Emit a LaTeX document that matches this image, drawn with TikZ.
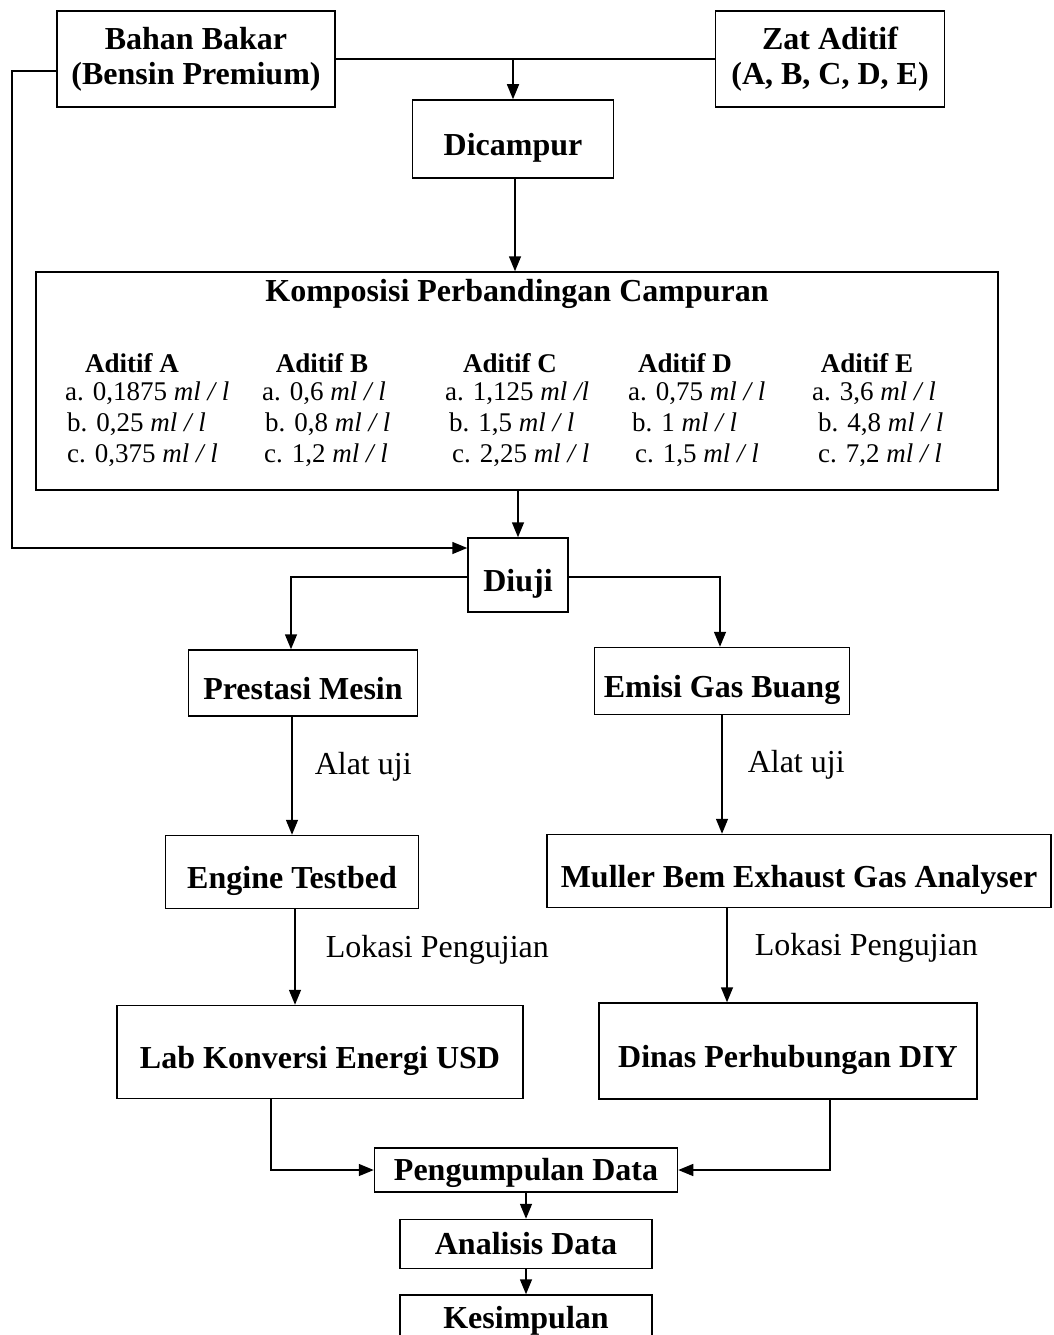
\documentclass[tikz,border=0pt]{standalone}
\usepackage{fontspec}
\setmainfont{Liberation Serif}
\usetikzlibrary{arrows.meta,positioning}

\begin{document}
\begin{tikzpicture}[x=1pt,y=1pt,
  frame/.style={draw,line width=1.5pt,inner sep=0pt,align=center,font=\fontsize{32}{35}\selectfont\bfseries},
  box/.style={frame,text height=32pt,text depth=0pt},
  smallbox/.style={frame,text height=20pt,text depth=0pt},
  arr/.style={-{Triangle[length=15pt,width=12pt]},line width=1.5pt},
  conn/.style={line width=1.5pt},
  lbl/.style={inner sep=0pt,anchor=west,font=\fontsize{32}{35}\selectfont},
  head/.style={inner sep=0pt,anchor=base,font=\fontsize{27}{31}\selectfont\bfseries},
  vals/.style={inner sep=0pt,align=left,anchor=north west,font=\fontsize{27}{31}\selectfont}]
\useasboundingbox (0,0) rectangle (1053,-1335);

\node[frame,minimum width=278pt,minimum height=96pt] (bahan) at (196,-59) {Bahan Bakar\\(Bensin Premium)};
\node[frame,minimum width=229pt,minimum height=96pt] (zat) at (830,-59) {Zat Aditif\\(A, B, C, D, E)};
\node[box,minimum width=201pt,minimum height=78pt] (dicampur) at (513,-139) {Dicampur};
\node[frame,minimum width=962pt,minimum height=218pt] (komposisi) at (517,-381) {};
\node[frame,draw=none] (judul) at (517,-294) {Komposisi Perbandingan Campuran};

% kolom aditif
\node[head] (hA) at (132,-372) {Aditif A};
\node[vals] (vA) at (65,-382) {a. 0,1875 \textit{ml / l}\\\hspace*{2pt}b. 0,25 \textit{ml / l}\\\hspace*{2pt}c. 0,375 \textit{ml / l}};
\node[head] (hB) at (322,-372) {Aditif B};
\node[vals] (vB) at (262,-382) {a. 0,6 \textit{ml / l}\\\hspace*{3pt}b. 0,8 \textit{ml / l}\\\hspace*{2pt}c. 1,2 \textit{ml / l}};
\node[head] (hC) at (510,-372) {Aditif C};
\node[vals] (vC) at (445,-382) {a. 1,125 \textit{ml /l}\\\hspace*{4pt}b. 1,5 \textit{ml / l}\\\hspace*{7pt}c. 2,25 \textit{ml / l}};
\node[head] (hD) at (685,-372) {Aditif D};
\node[vals] (vD) at (628,-382) {a. 0,75 \textit{ml / l}\\\hspace*{4pt}b. 1 \textit{ml / l}\\\hspace*{7pt}c. 1,5 \textit{ml / l}};
\node[head] (hE) at (867,-372) {Aditif E};
\node[vals] (vE) at (812,-382) {a. 3,6 \textit{ml / l}\\\hspace*{6pt}b. 4,8 \textit{ml / l}\\\hspace*{6pt}c. 7,2 \textit{ml / l}};

\node[box,minimum width=100pt,minimum height=74pt] (diuji) at (518,-575) {Diuji};
\node[box,minimum width=229pt,minimum height=66pt] (prestasi) at (303,-683) {Prestasi Mesin};
\node[box,minimum width=255pt,minimum height=67pt] (emisi) at (722,-681) {Emisi Gas Buang};
\node[box,minimum width=253pt,minimum height=73pt] (engine) at (292,-872) {Engine Testbed};
\node[box,minimum width=504pt,minimum height=73pt] (muller) at (799,-871) {Muller Bem Exhaust Gas Analyser};
\node[box,minimum width=406pt,minimum height=93pt] (lab) at (320,-1052) {Lab Konversi Energi USD};
\node[box,minimum width=378pt,minimum height=96pt] (dinas) at (788,-1051) {Dinas Perhubungan DIY};
\node[smallbox,minimum width=303pt,minimum height=44pt] (kumpul) at (526,-1170) {Pengumpulan Data};
\node[smallbox,minimum width=252pt,minimum height=49pt,below=26pt of kumpul] (analisis) {Analisis Data};
\node[smallbox,text height=14pt,minimum width=252pt,minimum height=52pt,below=25pt of analisis] (simpul) {Kesimpulan};
\coordinate (loop) at (12,-548);

\draw[conn] (bahan) -- (zat);
\draw[arr] (bahan.east -| dicampur.north) -- (dicampur.north);
\draw[arr] ([xshift=2pt]dicampur.south) -- ([xshift=2pt]dicampur.south |- komposisi.north);
\draw[arr] (komposisi.south -| diuji.north) -- (diuji.north);
\draw[arr] ([yshift=-12pt]bahan.west) -| (loop) -- (loop -| diuji.west);
\draw[arr] ([yshift=-2pt]diuji.west) -| ([xshift=-12pt]prestasi.north);
\draw[arr] ([yshift=-2pt]diuji.east) -| ([xshift=-2pt]emisi.north);
\draw[arr] (engine.north |- prestasi.south) -- node[lbl,pos=0.42,xshift=22pt] {Alat uji} (engine.north);
\draw[arr] (emisi.south) -- node[lbl,pos=0.42,xshift=25pt] {Alat uji} (emisi.south |- muller.north);
\draw[arr] ([xshift=3pt]engine.south) -- node[lbl,pos=0.42,xshift=30pt] {Lokasi Pengujian} ([xshift=3pt]engine.south |- lab.north);
\draw[arr] ([xshift=5pt]emisi.south |- muller.south) -- node[lbl,pos=0.42,xshift=27pt] {Lokasi Pengujian} ([xshift=5pt]emisi.south |- dinas.north);
\draw[arr] ([xshift=-49pt]lab.south) |- (kumpul.west);
\draw[arr] ([xshift=42pt]dinas.south) |- (kumpul.east);
\draw[arr] (kumpul) -- (analisis);
\draw[arr] (analisis) -- (simpul);
\end{tikzpicture}
\end{document}
